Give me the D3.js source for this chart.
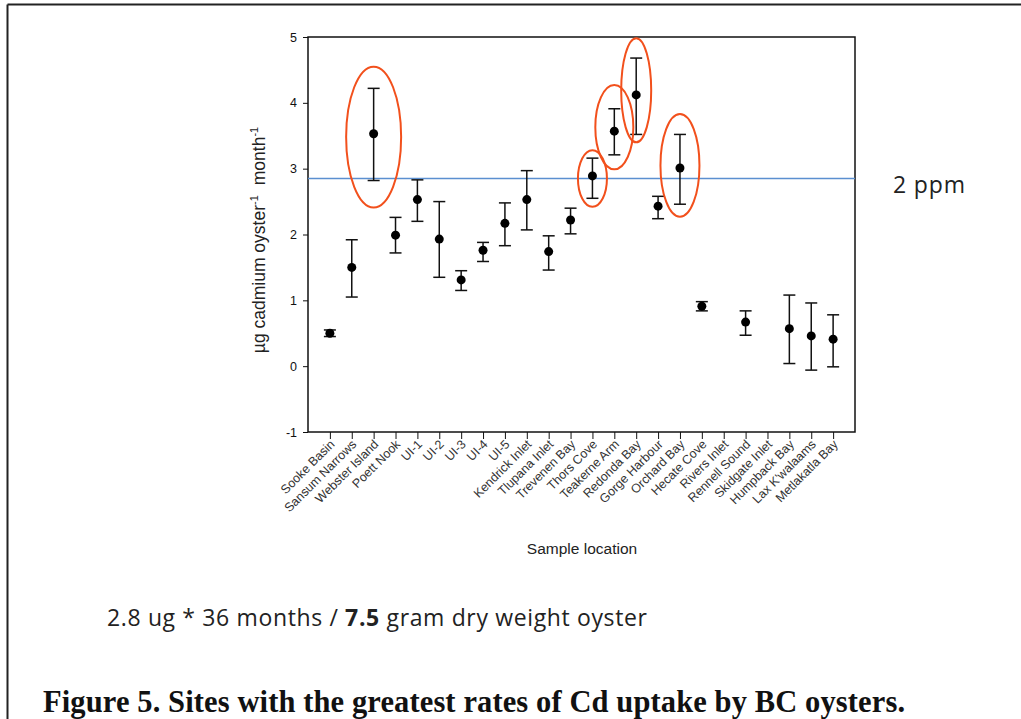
<!DOCTYPE html>
<html>
<head>
<meta charset="utf-8">
<style>
  body { margin: 0; background: #fff; }
  svg { display: block; }
</style>
<script src="https://d3js.org/d3.v7.min.js"></script>
</head>
<body>
<svg width="1021" height="719"></svg>
<script>

// sample sites, left to right
var sites = ["Sooke Basin", "Sansum Narrows", "Webster Island", "Poett Nook", "UI-1", "UI-2", "UI-3", "UI-4", "UI-5",
  "Kendrick Inlet", "Tlupana Inlet", "Trevenen Bay", "Thors Cove", "Teakerne Arm", "Redonda Bay", "Gorge Harbour",
  "Orchard Bay", "Hecate Cove", "Rivers Inlet", "Rennell Sound", "Skidgate Inlet", "Humpback Bay", "Lax K'walaams", "Metlakatla Bay"];

// uptake rate (ug Cd / oyster / month), with error bar ends
var means = [0.50, 1.50, 3.53, 1.99, 2.53, 1.93, 1.31, 1.76, 2.17, 2.53, 1.74, 2.22, 2.89, 3.57, 4.12, 2.43, 3.01, 0.91, null, 0.67, null, 0.57, 0.46, 0.41];
var upper = [0.55, 1.92, 4.22, 2.26, 2.83, 2.50, 1.45, 1.88, 2.48, 2.97, 1.98, 2.40, 3.16, 3.91, 4.68, 2.58, 3.52, 0.98, null, 0.84, null, 1.08, 0.96, 0.78];
var lower = [0.45, 1.05, 2.82, 1.72, 2.20, 1.35, 1.15, 1.59, 1.83, 2.07, 1.46, 2.01, 2.55, 3.21, 3.52, 2.24, 2.46, 0.84, null, 0.47, null, 0.04, -0.06, -0.01];

var yTicks = [-1, 0, 1, 2, 3, 4, 5];

// 2 ppm reference level
var threshold = 2.85;

// circled sites: value range covered by each ring
var circled = ["Webster Island", "Thors Cove", "Teakerne Arm", "Redonda Bay", "Orchard Bay"];
var ringTop = [4.55, 3.28, 4.27, 4.98, 3.83];
var ringBottom = [2.41, 2.42, 2.99, 3.40, 2.27];
var ringHalfWidth = [27.5, 14.5, 19, 15, 19.5];

var svg = d3.select("svg");

// page frame lines
svg.append("line").attr("x1", 7.5).attr("x2", 1021).attr("y1", 4.5).attr("y2", 4.5)
  .attr("stroke", "#222").attr("stroke-width", 2);
svg.append("line").attr("x1", 7.5).attr("x2", 7.5).attr("y1", 4.5).attr("y2", 719)
  .attr("stroke", "#222").attr("stroke-width", 2);

var margin = {left: 308, top: 37, right: 855, bottom: 432};

var x = d3.scalePoint()
  .domain(sites)
  .range([margin.left, margin.right])
  .padding(1);

var y = d3.scaleLinear()
  .domain([-1, 5])
  .range([margin.bottom, margin.top]);

var g = svg.append("g").attr("font-family", "'Liberation Sans', Arial, sans-serif");

// y axis
var yAxis = g.append("g")
  .attr("transform", "translate(" + margin.left + ",0)")
  .call(d3.axisLeft(y).tickValues(yTicks).tickSize(5).tickPadding(6).tickFormat(function (d) { return String(d); }));
yAxis.select(".domain").remove();
yAxis.selectAll("text").attr("font-size", 12.5).attr("fill", "#111").attr("font-family", null);
yAxis.selectAll("line").attr("stroke", "#111");

// x axis
var xAxis = g.append("g")
  .attr("transform", "translate(0," + margin.bottom + ")")
  .call(d3.axisBottom(x).tickSize(7).tickFormat(""));
xAxis.select(".domain").remove();
xAxis.selectAll("line").attr("stroke", "#111");

xAxis.selectAll(".tick").append("text")
  .attr("transform", "translate(5,13) rotate(-45)")
  .attr("text-anchor", "end")
  .attr("font-size", 12.5)
  .attr("fill", "#333")
  .text(function (d) { return d; });

// plot box
g.append("rect")
  .attr("x", margin.left).attr("y", margin.top)
  .attr("width", margin.right - margin.left).attr("height", margin.bottom - margin.top)
  .attr("fill", "none").attr("stroke", "#111").attr("stroke-width", 1.5);

// reference line
g.append("line")
  .attr("x1", margin.left).attr("x2", margin.right)
  .attr("y1", y(threshold)).attr("y2", y(threshold))
  .attr("stroke", "#5b8fd0").attr("stroke-width", 1.4);

// error bars + points
var data = sites.map(function (s, i) {
  return {site: s, mean: means[i], hi: upper[i], lo: lower[i]};
}).filter(function (d) { return d.mean != null; });

var bars = g.append("g").attr("stroke", "#111").attr("stroke-width", 1.5);
bars.selectAll(".stem").data(data).enter().append("line")
  .attr("x1", function (d) { return x(d.site); })
  .attr("x2", function (d) { return x(d.site); })
  .attr("y1", function (d) { return y(d.hi); })
  .attr("y2", function (d) { return y(d.lo); });
bars.selectAll(".capHi").data(data).enter().append("line")
  .attr("x1", function (d) { return x(d.site) - 6; })
  .attr("x2", function (d) { return x(d.site) + 6; })
  .attr("y1", function (d) { return y(d.hi); })
  .attr("y2", function (d) { return y(d.hi); });
bars.selectAll(".capLo").data(data).enter().append("line")
  .attr("x1", function (d) { return x(d.site) - 6; })
  .attr("x2", function (d) { return x(d.site) + 6; })
  .attr("y1", function (d) { return y(d.lo); })
  .attr("y2", function (d) { return y(d.lo); });

g.selectAll(".dot").data(data).enter().append("circle")
  .attr("cx", function (d) { return x(d.site); })
  .attr("cy", function (d) { return y(d.mean); })
  .attr("r", 4.5)
  .attr("fill", "#000");

// red rings round the high sites
g.selectAll(".ring").data(circled).enter().append("ellipse")
  .attr("cx", function (d) { return x(d); })
  .attr("cy", function (d, i) { return (y(ringTop[i]) + y(ringBottom[i])) / 2; })
  .attr("rx", function (d, i) { return ringHalfWidth[i]; })
  .attr("ry", function (d, i) { return (y(ringBottom[i]) - y(ringTop[i])) / 2; })
  .attr("fill", "none")
  .attr("stroke", "#f2501c")
  .attr("stroke-width", 2);

// axis titles
g.append("text")
  .attr("transform", "translate(265,240) rotate(-90)")
  .attr("text-anchor", "middle")
  .attr("font-size", 17.5)
  .attr("fill", "#222")
  .html("µg cadmium oyster<tspan dy='-7' font-size='11'>-1</tspan><tspan dy='7' dx='10'>month</tspan><tspan dy='-7' font-size='11'>-1</tspan>");

g.append("text")
  .attr("x", 582).attr("y", 554)
  .attr("text-anchor", "middle")
  .attr("font-size", 15.5)
  .attr("fill", "#222")
  .text("Sample location");

// notes outside the chart
svg.append("text")
  .attr("x", 893).attr("y", 193)
  .attr("font-family", "'Open Sans', Lato, sans-serif")
  .attr("font-size", 23)
  .attr("fill", "#222")
  .attr("textLength", 72)
  .text("2 ppm");

svg.append("text")
  .attr("x", 107).attr("y", 626)
  .attr("font-family", "'Open Sans', Lato, sans-serif")
  .attr("font-size", 23)
  .attr("fill", "#222")
  .attr("textLength", 540)
  .html("2.8 ug * 36 months / <tspan font-weight='bold'>7.5</tspan> gram dry weight oyster");

svg.append("text")
  .attr("x", 43).attr("y", 712)
  .attr("font-family", "'Liberation Serif', 'DejaVu Serif', serif")
  .attr("font-weight", "bold")
  .attr("font-size", 30.5)
  .attr("fill", "#111")
  .attr("textLength", 862)
  .text("Figure 5. Sites with the greatest rates of Cd uptake by BC oysters.");

</script>
</body>
</html>
